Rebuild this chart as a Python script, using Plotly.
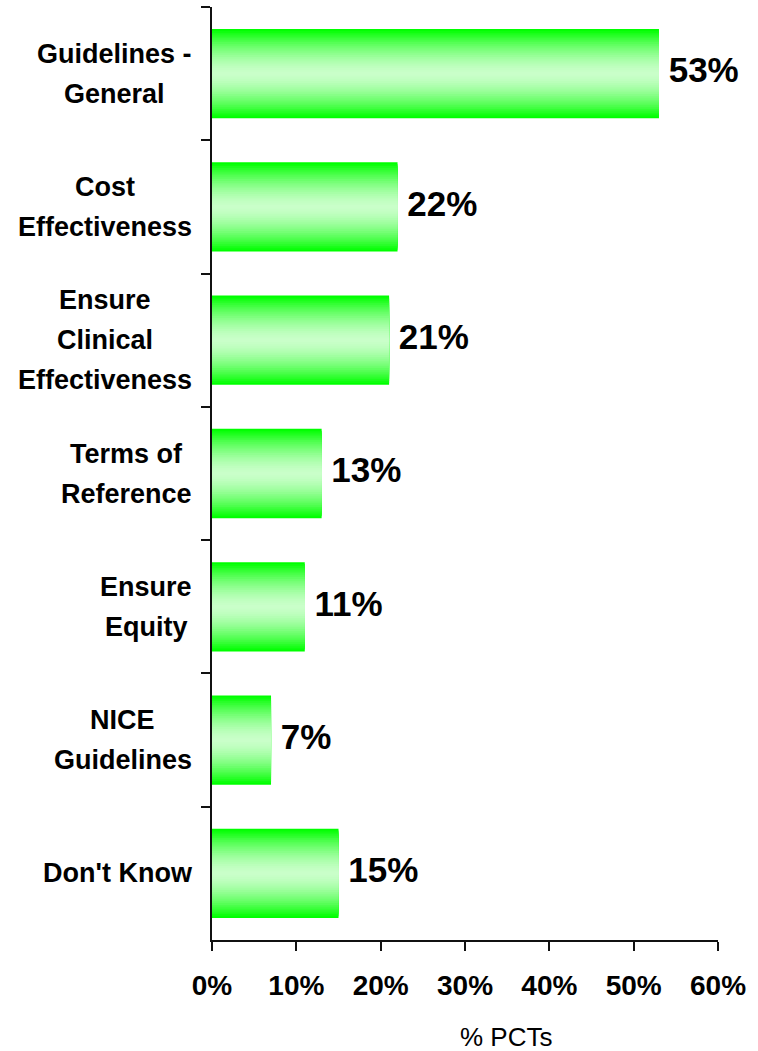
import plotly.graph_objects as go

# ---- data ----
categories = ["Guidelines - General", "Cost Effectiveness", "Ensure Clinical Effectiveness",
              "Terms of Reference", "Ensure Equity", "NICE Guidelines", "Don't Know"]
label_lines = [["Guidelines -", "General"], ["Cost", "Effectiveness"],
               ["Ensure", "Clinical", "Effectiveness"], ["Terms of", "Reference"],
               ["Ensure", "Equity"], ["NICE", "Guidelines"], ["Don't Know"]]
values = [53, 22, 21, 13, 11, 7, 15]
x_ticks = [0, 10, 20, 30, 40, 50, 60]
x_title = "% PCTs"

# ---- style ----
W, H = 758, 1051
ML, MR, MT, MB = 212, 40, 7, 111
BAR_W = 0.67
N_LAYERS = 24
EDGE = (0, 255, 0)
CENTER = (202, 255, 202)
CAT_FS = 27
LINE_PX = 40
LABEL_RIGHT_PX = 192

# approximate advance widths (1/1000 em) of Arial/Liberation Sans Bold
ADV = {" ": 278, "'": 238, "-": 333, "C": 722, "D": 722, "E": 667, "G": 778, "I": 278,
       "K": 722, "N": 722, "R": 722, "T": 611, "a": 556, "c": 556, "d": 611, "e": 556,
       "f": 333, "i": 278, "l": 278, "m": 889, "n": 611, "o": 611, "q": 611, "r": 389,
       "s": 556, "t": 333, "u": 611, "v": 556, "w": 778, "y": 556}


def text_w(s, fs):
    return sum(ADV.get(ch, 556) for ch in s) * fs / 1000.0


fig = go.Figure()

# gradient bars: overlaid bars of decreasing thickness, lighter towards the centre
for k in range(N_LAYERS):
    d = 1 - k / N_LAYERS          # 1 at edge, ->0 at centre
    t = d ** 1.6
    col = tuple(int(round(CENTER[i] + (EDGE[i] - CENTER[i]) * t)) for i in range(3))
    fig.add_trace(go.Bar(
        x=values, y=categories, orientation="h", width=BAR_W * d,
        marker=dict(color="rgb(%d,%d,%d)" % col, line=dict(width=0)),
        showlegend=False, hoverinfo="skip"))

# data labels
fig.add_trace(go.Scatter(
    x=values, y=categories, mode="text",
    text=[" %d%%" % v for v in values], textposition="middle right",
    textfont=dict(family="Liberation Sans", size=35, color="black", weight="bold"),
    showlegend=False, hoverinfo="skip", cliponaxis=False))

plot_w = W - ML - MR
plot_h = H - MT - MB

# category labels: each line centred within its block, block right edge next to axis
annotations = []
for cat, lines in zip(categories, label_lines):
    n = len(lines)
    block_w = max(text_w(ln, CAT_FS) for ln in lines)
    cx = LABEL_RIGHT_PX - block_w / 2.0
    for i, ln in enumerate(lines):
        annotations.append(dict(
            x=(cx - ML) / plot_w, xref="paper", y=cat, yref="y",
            text="<b>%s</b>" % ln, showarrow=False,
            xanchor="center", yanchor="middle", align="center",
            yshift=-(i - (n - 1) / 2.0) * LINE_PX,
            font=dict(family="Liberation Sans", size=CAT_FS, color="black")))

annotations.append(dict(
    x=(506 - ML) / plot_w, xref="paper", y=(H - MB - 1037) / plot_h, yref="paper",
    text=x_title, showarrow=False, xanchor="center", yanchor="middle",
    font=dict(family="Liberation Sans", size=26, color="black")))

fig.update_layout(
    width=W, height=H,
    margin=dict(l=ML, r=MR, t=MT, b=MB),
    barmode="overlay",
    plot_bgcolor="white", paper_bgcolor="white",
    annotations=annotations,
    xaxis=dict(range=[0, 60], tickvals=x_ticks, ticktext=["%d%%" % v for v in x_ticks],
               ticks="outside", ticklen=9, tickwidth=2, tickcolor="#111",
               showline=True, linewidth=2, linecolor="#111", showgrid=False,
               zeroline=False, ticklabelstandoff=10,
               tickfont=dict(family="Liberation Sans", size=28, color="black", weight="bold")),
    yaxis=dict(type="category", categoryorder="array", categoryarray=categories,
               range=[6.5, -0.5], tickson="boundaries", ticks="outside", ticklen=9,
               tickwidth=2, tickcolor="#111", showline=True, linewidth=2,
               linecolor="#111", showgrid=False, showticklabels=False, zeroline=False),
)

fig.write_html("out.html", config={"displayModeBar": False},
               post_script="document.body.style.margin='0';")
